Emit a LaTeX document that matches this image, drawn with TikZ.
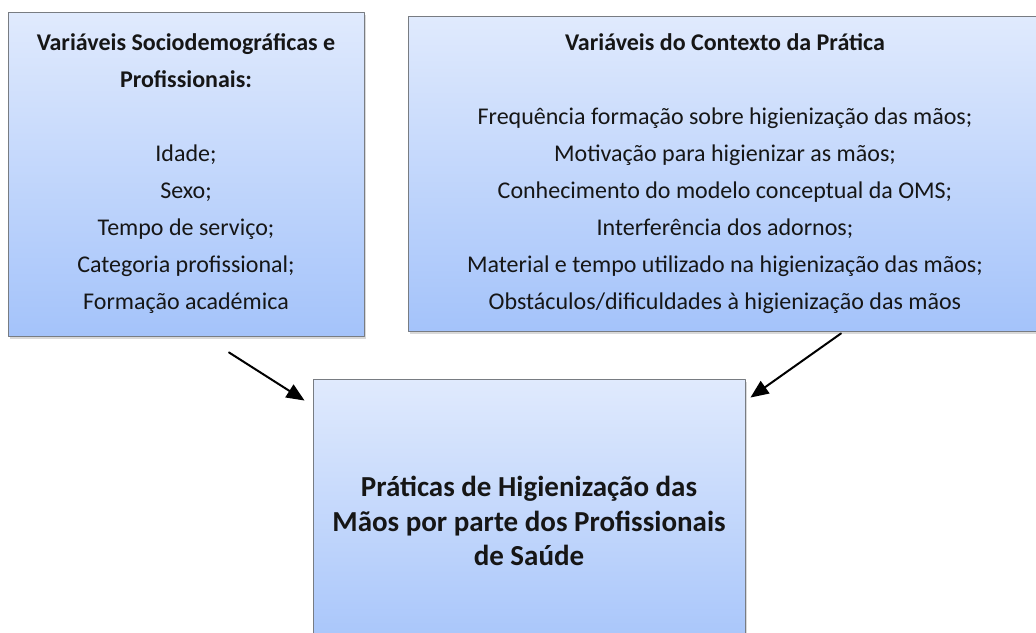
\documentclass[tikz,border=0pt]{standalone}
\usepackage{fontspec}
\setmainfont{Carlito}
\usepackage{tikz}
\usetikzlibrary{arrows.meta,calc,shadows}
\definecolor{BoxTop}{RGB}{224,234,253}
\definecolor{BoxBot}{RGB}{164,195,250}
\definecolor{BoxLine}{RGB}{120,124,130}
\definecolor{TextCol}{RGB}{22,22,22}

\begin{document}
\begin{tikzpicture}[
  x=1pt, y=-1pt,
  >={Triangle[length=18pt,width=15pt]},
  line cap=round,
  line join=round,
  every node/.style={font=\fontsize{24}{37}\selectfont, text=TextCol},
  varbox/.style={draw=BoxLine, line width=0.9pt, top color=BoxTop, bottom color=BoxBot,
    align=center, inner sep=0pt,
    drop shadow={opacity=0.3, shadow xshift=2pt, shadow yshift=-3pt}}
]
  % page frame
  \clip (0,0) rectangle (1036,632);

  % Two groups of variables on top
  \node[varbox, minimum width=356pt, minimum height=324pt] (soc) at (186,174)
    {\textbf{Variáveis Sociodemográficas e}\\\textbf{Profissionais:}\\[37pt]
     Idade;\\Sexo;\\Tempo de serviço;\\Categoria profissional;\\Formação académica};
  \node[varbox, minimum width=634pt, minimum height=315pt] (ctx) at (725,173.5)
    {\textbf{Variáveis do Contexto da Prática}\\[37pt]
     Frequência formação sobre higienização das mãos;\\
     Motivação para higienizar as mãos;\\
     Conhecimento do modelo conceptual da OMS;\\
     Interferência dos adornos;\\
     Material e tempo utilizado na higienização das mãos;\\
     Obstáculos/dificuldades à higienização das mãos};

  % Outcome box at the bottom (runs off the page)
  \node[varbox, minimum width=432pt, minimum height=284pt,
        font=\fontsize{29}{34.5}\selectfont\bfseries] (prat) at (529,521)
    {Práticas de Higienização das\\Mãos por parte dos Profissionais\\de Saúde};

  % Arrows: both groups feed into the outcome
  \coordinate (s1) at ([shift={(43,16)}]soc.south);
  \coordinate (t1) at ([shift={(-8,22)}]prat.north west);
  \coordinate (s2) at ([shift={(116,2)}]ctx.south);
  \coordinate (t2) at ([shift={(5,19)}]prat.north east);
  \draw[->, line width=2pt] (s1) -- (t1);
  \draw[->, line width=2pt] (s2) -- (t2);
\end{tikzpicture}
\end{document}
